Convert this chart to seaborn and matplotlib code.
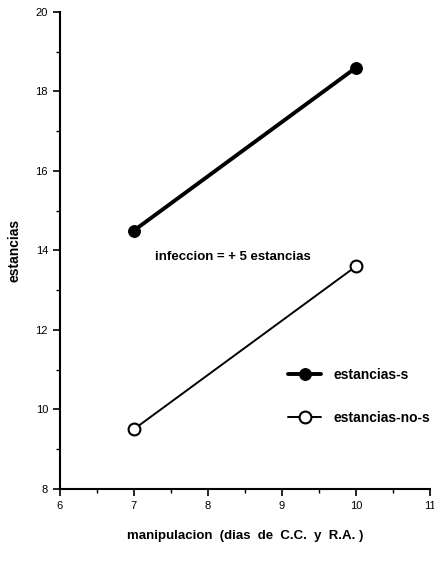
import pandas as pd
import matplotlib
matplotlib.use("Agg")
import matplotlib.pyplot as plt
import seaborn as sns
from matplotlib.ticker import MultipleLocator

# Data
dias = [7, 10]
estancias_s = [14.5, 18.6]
estancias_no_s = [9.5, 13.6]

df = pd.DataFrame({
    "dias": dias + dias,
    "estancias": estancias_s + estancias_no_s,
    "serie": ["estancias-s"] * 2 + ["estancias-no-s"] * 2,
})

sns.set_style("ticks", {"axes.edgecolor": "black", "text.color": "black",
                        "axes.labelcolor": "black", "xtick.color": "black",
                        "ytick.color": "black"})
plt.rcParams["font.family"] = ["Liberation Sans", "DejaVu Sans"]

fig = plt.figure(figsize=(4.34, 5.71), dpi=100)
ax = fig.add_axes([0.138, 0.144, 0.853, 0.835])

s = df[df["serie"] == "estancias-s"]
ns = df[df["serie"] == "estancias-no-s"]

sns.lineplot(data=s, x="dias", y="estancias", ax=ax, color="black",
             linewidth=2.8, marker="o", markersize=8.5,
             markerfacecolor="black", markeredgecolor="black",
             label="estancias-s")
sns.lineplot(data=ns, x="dias", y="estancias", ax=ax, color="black",
             linewidth=1.4, marker="o", markersize=8.5,
             markerfacecolor="white", markeredgecolor="black",
             markeredgewidth=1.5, label="estancias-no-s")

ax.set_xlim(6, 11)
ax.set_ylim(8, 20)
ax.xaxis.set_major_locator(MultipleLocator(1))
ax.xaxis.set_minor_locator(MultipleLocator(0.5))
ax.yaxis.set_major_locator(MultipleLocator(2))
ax.yaxis.set_minor_locator(MultipleLocator(1))
ax.tick_params(which="major", length=5, width=1.2, labelsize=8)
ax.tick_params(which="minor", length=3, width=1)
for sp in ["left", "bottom"]:
    ax.spines[sp].set_linewidth(1.5)
sns.despine(ax=ax)

ax.set_xlabel("manipulacion  (dias  de  C.C.  y  R.A. )",
              fontsize=9.5, fontweight="bold", labelpad=14)
ax.set_ylabel("estancias", fontsize=10, fontweight="bold", labelpad=10)

ax.text(8.33, 13.84, "infeccion = + 5 estancias", fontsize=9.5,
        fontweight="bold", ha="center", va="center")

leg = ax.legend(loc="center left", bbox_to_anchor=(0.635, 0.306),
                bbox_transform=fig.transFigure, frameon=False,
                fontsize=10, handlelength=2.4, handletextpad=0.9,
                labelspacing=2.1)
for t in leg.get_texts():
    t.set_fontweight("bold")

fig.savefig("out.png", dpi=100)
